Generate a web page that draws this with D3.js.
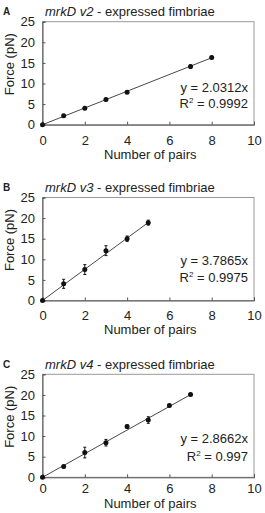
<!DOCTYPE html>
<html>
<head>
<meta charset="utf-8">
<script src="https://cdn.jsdelivr.net/npm/d3@7"></script>
<style>
  body { margin: 0; background: #fff; }
  svg { display: block; }
  text { font-family: "Liberation Sans", Arial, sans-serif; fill: #222; }
</style>
</head>
<body>
<svg id="main" width="265" height="513"></svg>
<script>
// panel data
var panelLetters = ["A", "B", "C"];
var panelNames = ["v2", "v3", "v4"];
var pairsA = [0, 1, 2, 3, 4, 7, 8];
var forceA = [0, 2.2, 4.0, 6.1, 7.9, 14.1, 16.3];
var errA = [0, 0.3, 0.3, 0.3, 0.3, 0.4, 0.3];
var pairsB = [0, 1, 2, 3, 4, 5];
var forceB = [0, 4.05, 7.5, 12.1, 15.0, 18.9];
var errB = [0, 1.1, 1.2, 1.2, 0.65, 0.6];
var pairsC = [0, 1, 2, 3, 4, 5, 6, 7];
var forceC = [0, 2.6, 6.0, 8.4, 12.3, 13.9, 17.4, 20.1];
var errC = [0, 0.3, 1.3, 0.8, 0.4, 0.8, 0.3, 0.3];
var slopes = [2.0312, 3.7865, 2.8662];
var slopeLabels = ["2.0312", "3.7865", "2.8662"];
var r2Labels = ["0.9992", "0.9975", "0.997"];
var lineEnds = [8, 5, 7];
var xTicks = [0, 2, 4, 6, 8, 10];
var yTicks = [0, 5, 10, 15, 20, 25];

var panels = [
  {x: pairsA, y: forceA, e: errA},
  {x: pairsB, y: forceB, e: errB},
  {x: pairsC, y: forceC, e: errC}
];

// layout per panel (the three panels are not spaced quite the same)
var tops = [21.7, 197.5, 374.3];
var tickPad = [11, 10, 6.5];      // x tick label gap below axis
var xTitleOff = [34.5, 33, 30.8]; // x title baseline below axis
var eqOff = [70, 67.5, 68.7];
var r2Off = [86.3, 84.2, 86.4];
var H = 103;
var left = 42.5, right = 254;
var fs = 13;

var svg = d3.select("#main");

panels.forEach(function(p, i) {
  var t = tops[i];
  var xs = d3.scaleLinear().domain([0, 10]).range([left, right]);
  var ys = d3.scaleLinear().domain([0, 25]).range([t + H, t]);
  var g = svg.append("g");

  // frame
  g.append("rect")
    .attr("x", left).attr("y", t)
    .attr("width", right - left).attr("height", H)
    .attr("fill", "none").attr("stroke", "#999").attr("stroke-width", 1);

  // axes, ticks inward
  var xAxis = d3.axisBottom(xs).tickValues(xTicks).tickSize(-3).tickPadding(tickPad[i]);
  var yAxis = d3.axisLeft(ys).tickValues(yTicks).tickSize(-3).tickPadding(7.5);
  var gx = g.append("g").attr("transform", "translate(0," + (t + H) + ")").call(xAxis);
  var gy = g.append("g").attr("transform", "translate(" + left + ",0)").call(yAxis);
  [gx, gy].forEach(function(a) {
    a.select(".domain").attr("stroke", "#555");
    a.selectAll(".tick line").attr("stroke", "#555");
    a.selectAll(".tick text").attr("font-size", fs).attr("fill", "#222")
      .attr("font-family", "Liberation Sans, Arial, sans-serif");
  });

  // axis titles
  g.append("text")
    .attr("x", (left + right) / 2 + 2).attr("y", t + H + xTitleOff[i])
    .attr("text-anchor", "middle").attr("font-size", fs)
    .text("Number of pairs");
  g.append("text")
    .attr("transform", "translate(13.5," + (t + H / 2 - 9) + ") rotate(-90)")
    .attr("text-anchor", "middle").attr("font-size", fs)
    .text("Force (pN)");

  // panel letter + title
  g.append("text")
    .attr("x", 3).attr("y", t - 6.5)
    .attr("font-family", "Liberation Serif, Times New Roman, serif")
    .attr("font-weight", "bold").attr("font-size", 10)
    .text(panelLetters[i]);
  var title = g.append("text")
    .attr("x", 45).attr("y", t - 5.3).attr("font-size", fs);
  title.append("tspan").attr("font-style", "italic").text("mrkD");
  title.append("tspan").attr("font-style", "italic").text(" " + panelNames[i]);
  title.append("tspan").text("  - expressed fimbriae");

  // regression line
  g.append("line")
    .attr("x1", xs(0)).attr("y1", ys(0))
    .attr("x2", xs(lineEnds[i])).attr("y2", ys(slopes[i] * lineEnds[i]))
    .attr("stroke", "#333").attr("stroke-width", 0.9);

  // error bars
  p.x.forEach(function(v, k) {
    if (p.e[k] > 0) {
      g.append("line")
        .attr("x1", xs(v)).attr("x2", xs(v))
        .attr("y1", ys(p.y[k] - p.e[k])).attr("y2", ys(p.y[k] + p.e[k]))
        .attr("stroke", "#111").attr("stroke-width", 1);
      [p.y[k] - p.e[k], p.y[k] + p.e[k]].forEach(function(yy) {
        g.append("line")
          .attr("x1", xs(v) - 1.5).attr("x2", xs(v) + 1.5)
          .attr("y1", ys(yy)).attr("y2", ys(yy))
          .attr("stroke", "#111").attr("stroke-width", 1);
      });
    }
  });

  // points
  g.selectAll("circle.pt").data(p.x).enter().append("circle")
    .attr("class", "pt")
    .attr("cx", function(d) { return xs(d); })
    .attr("cy", function(d, k) { return ys(p.y[k]); })
    .attr("r", 2.5).attr("fill", "#111");

  // equation
  g.append("text")
    .attr("x", 248).attr("y", t + eqOff[i])
    .attr("text-anchor", "end").attr("font-size", fs)
    .text("y = " + slopeLabels[i] + "x");
  var r2 = g.append("text")
    .attr("x", 248).attr("y", t + r2Off[i])
    .attr("text-anchor", "end").attr("font-size", fs);
  r2.append("tspan").text("R");
  r2.append("tspan").attr("font-size", 8).attr("dy", -5).text("2");
  r2.append("tspan").attr("dy", 5).text(" = " + r2Labels[i]);
});
</script>
</body>
</html>
